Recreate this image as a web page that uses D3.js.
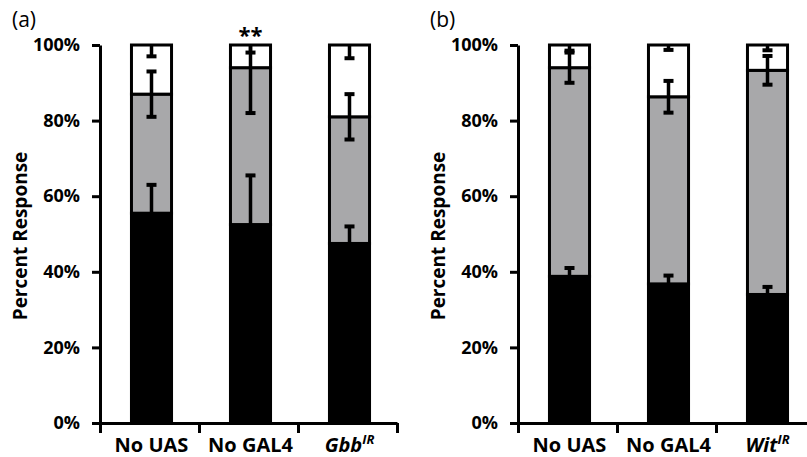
<!doctype html>
<meta charset="utf-8">

<style>
    body {
        margin: 0;
        background: #fff;
    }
    text {
        font-family: "Open Sans", sans-serif;
        fill: #000;
    }
</style>

<div id="chart"></div>

<script src="https://d3js.org/d3.v7.min.js"></script>

<script>

// panel (a) - Gbb knockdown
let catsA = ["No UAS", "No GAL4", "Gbb"]
let blackA = [55.5, 52.5, 47.5]
let grayA = [31.5, 41.5, 33.5]
let blackErrA = [7.5, 13, 4.5]
let grayErrA = [6, 12, 6]
let whiteErrA = [3, 2, 3.5]

// panel (b) - Wit knockdown
let catsB = ["No UAS", "No GAL4", "Wit"]
let blackB = [38.8, 36.8, 34]
let grayB = [55.2, 49.5, 59.3]
let blackErrB = [2.2, 2.2, 2]
let grayErrB = [4, 4.2, 3.8]
let whiteErrB = [1.5, 1.3, 1.4]

let yTicks = [0, 20, 40, 60, 80, 100]

let width = 807, height = 457
let grey = "#a8a8aa"

let svg = d3.select("#chart")
    .append("svg")
    .attr("width", width)
    .attr("height", height)

let y = d3.scaleLinear().domain([0, 100]).range([423, 45])

function drawPanel(opts) {
    let g = svg.append("g")
    let cats = opts.cats

    // bars sit a touch right of centre in the original
    let x = d3.scaleBand()
        .domain(cats)
        .range([opts.x0 + 2, opts.x0 + 2 + 3 * opts.step])
        .paddingInner(0.565)
        .paddingOuter(0.2825)
    let xEdge = d3.scaleLinear().domain([0, 3]).range([opts.x0, opts.x0 + 3 * opts.step])

    // stacked segments: black, grey, white
    let rows = cats.map((c, i) => ({cat: c, black: opts.black[i], grey: opts.grey[i], white: 100 - opts.black[i] - opts.grey[i]}))
    let stack = d3.stack().keys(["black", "grey", "white"])(rows)
    let fills = {black: "#000", grey: grey, white: "#fff"}

    g.selectAll("g.layer")
        .data(stack)
        .join("g")
        .attr("class", "layer")
        .attr("fill", d => fills[d.key])
        .selectAll("rect")
        .data(d => d)
        .join("rect")
        .attr("x", d => x(d.data.cat) + 1.5)
        .attr("width", x.bandwidth() - 3)
        .attr("y", d => y(d[1]))
        .attr("height", d => y(d[0]) - y(d[1]))
        .attr("stroke", "#000")
        .attr("stroke-width", 3)

    // error bars at the top of every segment
    let errs = []
    cats.forEach((c, i) => {
        let b = opts.black[i], gr = b + opts.grey[i]
        errs.push({cat: c, top: b, e: opts.blackErr[i]})
        errs.push({cat: c, top: gr, e: opts.greyErr[i]})
        errs.push({cat: c, top: 100, e: opts.whiteErr[i]})
    })
    let cx = d => x(d.cat) + x.bandwidth() / 2
    let eb = g.append("g").attr("stroke", "#000")
    eb.selectAll("line.stem")
        .data(errs)
        .join("line")
        .attr("class", "stem")
        .attr("x1", cx).attr("x2", cx)
        .attr("y1", d => y(Math.max(0, d.top - d.e)))
        .attr("y2", d => y(Math.min(100, d.top + d.e)))
        .attr("stroke-width", 3.5)
    let caps = []
    errs.forEach(d => {
        if (d.top - d.e > 0) caps.push({cat: d.cat, v: d.top - d.e})
        if (d.top + d.e < 100) caps.push({cat: d.cat, v: d.top + d.e})
    })
    eb.selectAll("line.cap")
        .data(caps)
        .join("line")
        .attr("class", "cap")
        .attr("x1", d => cx(d) - 5).attr("x2", d => cx(d) + 5)
        .attr("y1", d => y(d.v)).attr("y2", d => y(d.v))
        .attr("stroke-width", 4)

    // axes
    let yAxis = g.append("g")
        .attr("transform", "translate(" + opts.x0 + ",0)")
        .call(d3.axisLeft(y).tickValues(yTicks).tickFormat(d => d + "%").tickSize(8).tickSizeOuter(0).tickPadding(12))
    let xAxis = g.append("g")
        .attr("transform", "translate(0," + y(0) + ")")
        .call(d3.axisBottom(xEdge).ticks(3).tickFormat("").tickSize(10).tickSizeOuter(0))
    g.selectAll(".domain, .tick line").attr("stroke", "#000").attr("stroke-width", 3)
    yAxis.selectAll("text")
        .style("font-size", "18px")
        .style("font-weight", "bold")
        .attr("fill", "#000")

    // category labels, last one italic with superscript
    let lab = g.append("g")
    cats.forEach((c, i) => {
        let t = lab.append("text")
            .attr("x", cx({cat: c}))
            .attr("y", 452)
            .attr("text-anchor", "middle")
            .style("font-size", "20px")
            .style("font-weight", "bold")
        if (i == 2) {
            t.append("tspan").style("font-style", "italic").text(c)
            t.append("tspan").style("font-style", "italic").style("font-size", "13px").attr("dy", -8).text("IR")
        } else t.text(c)
    })

    g.append("text")
        .attr("transform", "translate(" + (opts.x0 - 73) + "," + 236 + ") rotate(-90)")
        .attr("text-anchor", "middle")
        .style("font-size", "19px")
        .style("font-weight", "bold")
        .text("Percent Response")

    g.append("text")
        .attr("x", opts.x0 - 88)
        .attr("y", 27)
        .style("font-size", "21px")
        .text(opts.tag)

    return {x, cx}
}

let pa = drawPanel({cats: catsA, black: blackA, grey: grayA, blackErr: blackErrA, greyErr: grayErrA, whiteErr: whiteErrA, x0: 100, step: 99, tag: "(a)"})
drawPanel({cats: catsB, black: blackB, grey: grayB, blackErr: blackErrB, greyErr: grayErrB, whiteErr: whiteErrB, x0: 518, step: 99, tag: "(b)"})

// significance mark over No GAL4 in panel (a)
svg.append("text")
    .attr("x", pa.cx({cat: "No GAL4"}))
    .attr("y", 43)
    .attr("text-anchor", "middle")
    .style("font-size", "22px")
    .style("font-weight", "bold")
    .text("**")

</script>
